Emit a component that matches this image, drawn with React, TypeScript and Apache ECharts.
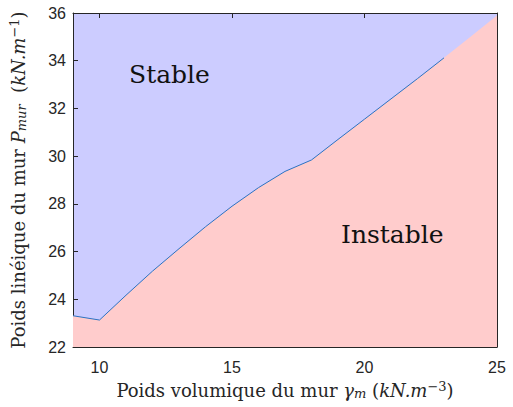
import React, { useEffect, useRef } from "react";
import * as echarts from "echarts";

// Poids volumique (x) and boundary Poids linéique (y)
const gammaValues = [9, 10, 11, 12, 13, 14, 15, 16, 17, 18, 19, 20, 21, 22, 23, 24, 25];
const boundaryValues = [23.31, 23.13, 24.17, 25.18, 26.12, 27.04, 27.9, 28.68, 29.36, 29.84, 30.7, 31.55, 32.4, 33.25, 34.12, 35.0, 35.9];
// line drawn up to gamma = 23
const lineEndGamma = 23;
const xTicks = [10, 15, 20, 25];
const regionLabels = ["Stable", "Instable"];

export default function App() {
  const ref = useRef<HTMLDivElement>(null);
  useEffect(() => {
    if (!ref.current) return;
    document.body.style.margin = "0";
    const chart = echarts.init(ref.current, null, { renderer: "svg" });
    const areaData = gammaValues.map((g, i) => [g, boundaryValues[i]]);
    const lineData = areaData.filter((d) => d[0] <= lineEndGamma);
    const axisColor = "#262626";
    const serif = "'DejaVu Serif', 'Liberation Serif', serif";
    const rich = {
      t: { fontFamily: serif, fontSize: 18, color: "#262626" },
      i: { fontFamily: serif, fontSize: 18, fontStyle: "italic" as const, color: "#262626" },
      sub: { fontFamily: serif, fontSize: 13, fontStyle: "italic" as const, color: "#262626", verticalAlign: "bottom" as const, padding: [7, 0, 0, 0] },
      sup: { fontFamily: serif, fontSize: 13, color: "#262626", verticalAlign: "top" as const, padding: [0, 0, 7, 0] },
    };
    chart.setOption({
      animation: false,
      grid: {
        left: 73,
        right: 16,
        top: 13,
        bottom: 60,
        show: true,
        backgroundColor: "#CCCCFF",
        borderWidth: 0,
      },
      xAxis: [
        {
          type: "value",
          min: 9,
          max: 25,
          name: "{t|Poids volumique du mur }{i|γ}{sub|m}{t| (}{i|kN.m}{sup|−3}{t|)}",
          nameLocation: "middle",
          nameGap: 33,
          nameTextStyle: { rich },
          axisLine: { show: true, onZero: false, lineStyle: { color: axisColor, width: 1 } },
          axisTick: { show: true, inside: true, length: 5, customValues: xTicks, lineStyle: { color: axisColor } },
          axisLabel: {
            customValues: xTicks,
            color: axisColor,
            fontSize: 16,
            fontFamily: "'Liberation Sans', Arial, sans-serif",
            margin: 12,
          },
          splitLine: { show: false },
        },
        {
          type: "value",
          position: "top",
          min: 9,
          max: 25,
          axisLine: { show: true, onZero: false, lineStyle: { color: axisColor, width: 1 } },
          axisTick: { show: true, inside: true, length: 5, customValues: xTicks, lineStyle: { color: axisColor } },
          axisLabel: { show: false },
          splitLine: { show: false },
        },
      ],
      yAxis: [
        {
          type: "value",
          min: 22,
          max: 36,
          interval: 2,
          name: "{t|Poids linéique du mur }{i|P}{sub|mur}{t|  (}{i|kN.m}{sup|−1}{t|)}",
          nameLocation: "middle",
          nameRotate: 90,
          nameGap: 45,
          nameTextStyle: { rich },
          axisLine: { show: true, onZero: false, lineStyle: { color: axisColor, width: 1 } },
          axisTick: { show: true, inside: true, length: 5, lineStyle: { color: axisColor } },
          axisLabel: {
            color: axisColor,
            fontSize: 16,
            fontFamily: "'Liberation Sans', Arial, sans-serif",
            margin: 7,
          },
          splitLine: { show: false },
        },
        {
          type: "value",
          position: "right",
          min: 22,
          max: 36,
          interval: 2,
          axisLine: { show: true, onZero: false, lineStyle: { color: axisColor, width: 1 } },
          axisTick: { show: true, inside: true, length: 5, lineStyle: { color: axisColor } },
          axisLabel: { show: false },
          splitLine: { show: false },
        },
      ],
      series: [
        {
          type: "line",
          data: areaData,
          symbol: "none",
          lineStyle: { width: 0 },
          areaStyle: { color: "#FFCCCC", opacity: 1, origin: "start" },
          z: 1,
        },
        {
          type: "line",
          data: lineData,
          symbol: "none",
          lineStyle: { width: 1, color: "#2b72c2" },
          z: 2,
        },
      ],
      graphic: [
        {
          type: "text",
          left: 129,
          top: 62,
          style: { text: regionLabels[0], font: "25px 'DejaVu Serif', serif", fill: "#111" },
          z: 10,
        },
        {
          type: "text",
          left: 341,
          top: 222,
          style: { text: regionLabels[1], font: "25px 'DejaVu Serif', serif", fill: "#111" },
          z: 10,
        },
      ],
    });
    return () => chart.dispose();
  }, []);
  return <div ref={ref} style={{ width: 513, height: 407 }} />;
}
